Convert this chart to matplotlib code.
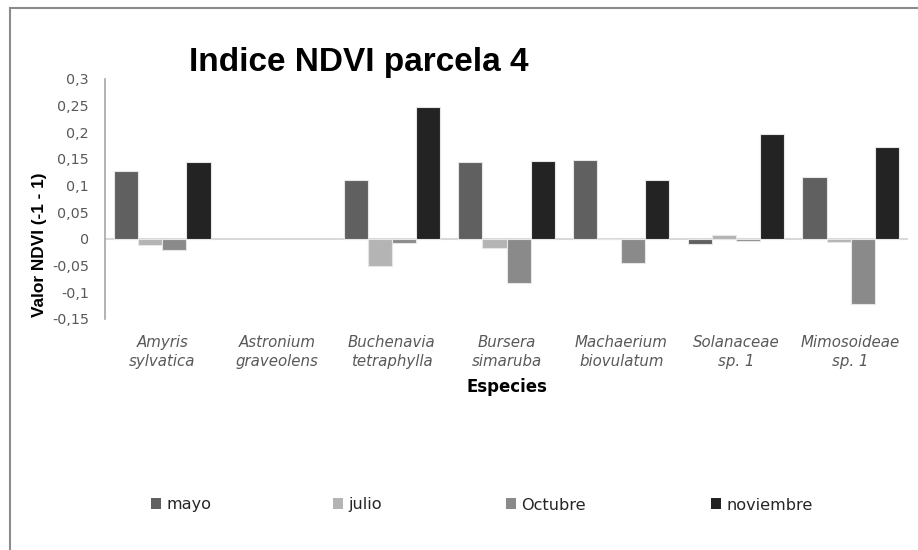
import numpy as np
import matplotlib
matplotlib.use("Agg")
import matplotlib.pyplot as plt
from matplotlib.patches import Patch
from matplotlib.lines import Line2D

species = ["Amyris\nsylvatica", "Astronium\ngraveolens", "Buchenavia\ntetraphylla",
           "Bursera\nsimaruba", "Machaerium\nbiovulatum", "Solanaceae\nsp. 1",
           "Mimosoideae\nsp. 1"]
series_names = ["mayo", "julio", "Octubre", "noviembre"]
mayo = [0.127, None, 0.110, 0.145, 0.149, -0.010, 0.117]
julio = [-0.012, None, -0.050, -0.016, 0.0, 0.007, -0.005]
octubre = [-0.021, None, -0.008, -0.082, -0.045, -0.004, -0.121]
noviembre = [0.145, None, 0.247, 0.147, 0.111, 0.197, 0.172]
yticks = [-0.15, -0.1, -0.05, 0, 0.05, 0.1, 0.15, 0.2, 0.25, 0.3]
ytick_labels = ["-0,15", "-0,1", "-0,05", "0", "0,05", "0,1", "0,15", "0,2", "0,25", "0,3"]

colors = ["#606060", "#b4b4b4", "#8a8a8a", "#232323"]
series = [mayo, julio, octubre, noviembre]

W, H = 918, 550
fig = plt.figure(figsize=(W / 100, H / 100), dpi=100)
ax = fig.add_axes([105 / W, 1 - 319 / H, (908 - 105) / W, (319 - 79) / H])

x = np.arange(len(species))
bw = 0.21
for i, (name, vals, c) in enumerate(zip(series_names, series, colors)):
    v = np.array([np.nan if val is None else val for val in vals], dtype=float)
    ax.bar(x + (i - 1.5) * bw, v, width=bw, color=c, edgecolor="#e6e6e6",
           linewidth=0.8, label=name, zorder=3)

ax.set_xlim(-0.5, len(species) - 0.5)
ax.set_ylim(-0.15, 0.3)
ax.axhline(0, color="#d9d9d9", linewidth=1.5, zorder=2)
for s in ["top", "right", "bottom"]:
    ax.spines[s].set_visible(False)
ax.spines["left"].set_color("#a6a6a6")
ax.spines["left"].set_linewidth(1.2)
ax.set_yticks(yticks)
ax.set_yticklabels(ytick_labels, fontsize=10.3, color="#595959",
                   family="DejaVu Sans")
ax.tick_params(axis="y", length=0, pad=11.5)
ax.set_xticks([])
for xi, lab in zip(x, species):
    ax.text(xi, -0.180, lab, ha="center", va="top", fontsize=10.8,
            style="italic", color="#595959", family="DejaVu Sans",
            linespacing=1.3, transform=ax.transData)

fig.text(359 / W, 1 - 63 / H, "Indice NDVI parcela 4", ha="center", va="center",
         fontsize=24, fontweight="bold", family="Liberation Sans")
fig.text(40 / W, 1 - 245 / H, "Valor NDVI (-1 - 1)", ha="center", va="center",
         rotation=90, fontsize=12.4, fontweight="bold", family="Liberation Sans")
fig.text(507 / W, 1 - 387 / H, "Especies", ha="center", va="center",
         fontsize=11.9, fontweight="bold", family="DejaVu Sans")

# legend entries placed individually
leg_x = [151, 333, 506, 711]
for name, c, lx in zip(series_names, colors, leg_x):
    leg = fig.legend(handles=[Patch(facecolor=c, edgecolor="none", label=name)],
                     loc="center left", bbox_to_anchor=(lx / W, 1 - 505 / H),
                     frameon=False, handlelength=0.65, handleheight=0.65,
                     handletextpad=0.3, borderaxespad=0, borderpad=0,
                     prop={"family": "DejaVu Sans", "size": 11.6})
    for t in leg.get_texts():
        t.set_color("#262626")

# chart border (left and top)
fig.add_artist(Line2D([10 / W, 10 / W], [0, 1 - 8 / H], transform=fig.transFigure,
                      color="#8c8c8c", linewidth=1.5))
fig.add_artist(Line2D([10 / W, 1], [1 - 8 / H, 1 - 8 / H], transform=fig.transFigure,
                      color="#8c8c8c", linewidth=1.5))

fig.savefig("out.png", dpi=100)
